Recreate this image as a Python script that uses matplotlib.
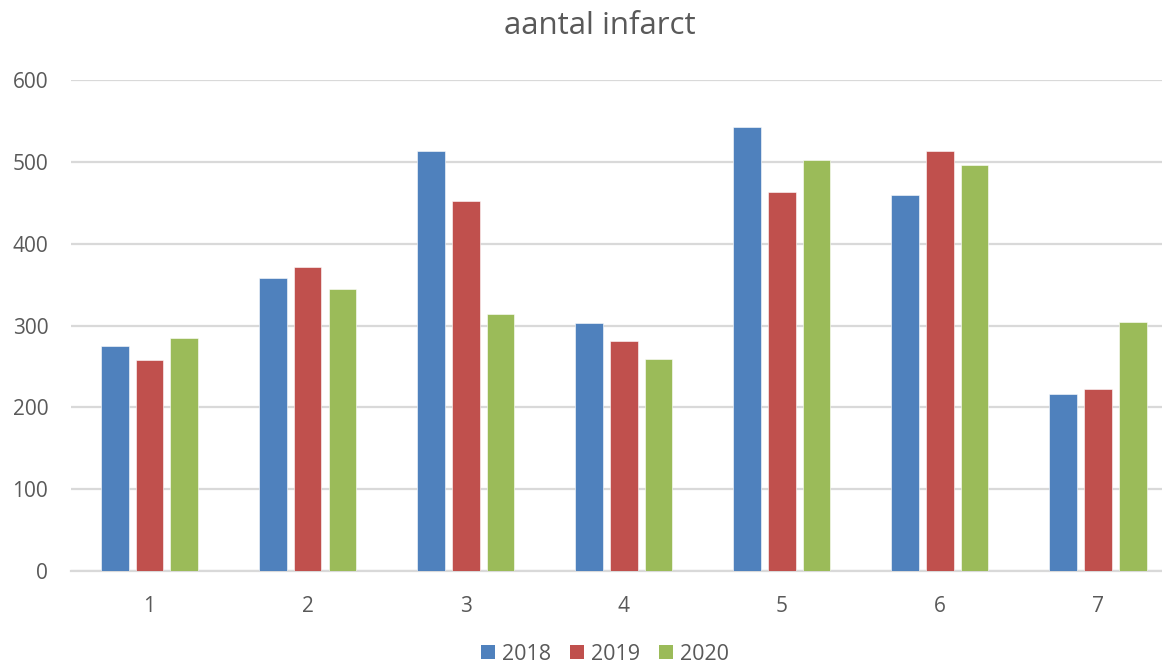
import matplotlib
matplotlib.use("Agg")
import matplotlib.pyplot as plt
from matplotlib.patches import Patch
import numpy as np

categories = ["1", "2", "3", "4", "5", "6", "7"]
years = ["2018", "2019", "2020"]
v2018 = [275, 358, 513, 303, 543, 460, 216]
v2019 = [258, 372, 453, 281, 463, 513, 222]
v2020 = [285, 345, 314, 259, 503, 496, 305]
yticks = [0, 100, 200, 300, 400, 500, 600]
title = "aantal infarct"

colors = ["#4F81BD", "#C0504D", "#9BBB59"]
txt = "#595959"
plt.rcParams['font.family'] = ['Open Sans', 'DejaVu Sans']

W, H = 1162, 666
fig = plt.figure(figsize=(W / 100, H / 100), dpi=100)
fig.patch.set_facecolor("white")
left, right = 70.5, 1177.0
top, bottom = 80.3, 571.0
ax = fig.add_axes([left / W, 1 - bottom / H, (right - left) / W, (bottom - top) / H])

x = np.arange(len(categories))
width = 0.175
step = 0.22
for i, (vals, c, lab) in enumerate(zip([v2018, v2019, v2020], colors, years)):
    ax.bar(x + (i - 1) * step, vals, width=width, color=c, label=lab, zorder=3,
           edgecolor="white", linewidth=0.4)

ax.set_xlim(-0.5, len(categories) - 0.5)
ax.set_ylim(0, 600)
ax.set_yticks(yticks)
ax.set_yticklabels([str(t) for t in yticks])
ax.set_xticks(x)
ax.set_xticklabels(categories)
ax.yaxis.grid(True, color="#D9D9D9", linewidth=1.6, zorder=0)
ax.set_axisbelow(True)
for s in ["top", "right", "left"]:
    ax.spines[s].set_visible(False)
ax.spines["bottom"].set_color("#D9D9D9")
ax.spines["bottom"].set_linewidth(1.6)
ax.tick_params(axis="both", length=0, colors=txt, labelsize=15)
ax.tick_params(axis="y", pad=16)
ax.tick_params(axis="x", pad=18)

fig.text(600 / W, 1 - 26 / H, title, ha="center", va="center", fontsize=22.5, color=txt)

handles = [Patch(facecolor=c, edgecolor="none") for c in colors]
fig.legend(handles, years, loc="center", bbox_to_anchor=(605 / W, 1 - 654 / H),
           ncol=3, frameon=False, fontsize=15.5, labelcolor=txt,
           handlelength=0.65, handleheight=0.65, handletextpad=0.3, columnspacing=0.9)

fig.savefig("out.png", dpi=100, facecolor="white")
